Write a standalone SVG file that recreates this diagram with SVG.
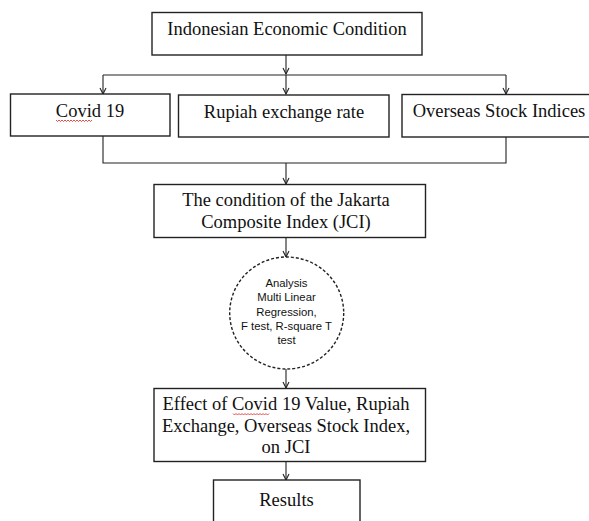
<svg xmlns="http://www.w3.org/2000/svg" width="589" height="521" viewBox="0 0 589 521">
<defs>
<marker id="ah" markerWidth="8" markerHeight="8" refX="7" refY="4" orient="auto" markerUnits="userSpaceOnUse">
<polyline points="1,1 7,4 1,7" fill="none" stroke="#222" stroke-width="1.1"/>
</marker>
<style>
.box{fill:#fff;stroke:#222;stroke-width:1.4}
.t{font-family:"Liberation Serif","Times New Roman",serif;font-size:18.5px;fill:#111;text-anchor:middle}
.c{font-family:"Liberation Sans",Arial,sans-serif;font-size:11.3px;fill:#111;text-anchor:middle}
.ln{fill:none;stroke:#222;stroke-width:1.1}
.sq{fill:none;stroke:#e02020;stroke-width:0.8}
</style>
</defs>
<rect width="589" height="521" fill="#fff"/>
<g id="connectors">
<line class="ln" x1="286" y1="55" x2="286" y2="74" marker-end="url(#ah)"/>
<polyline class="ln" points="103,75 506,75"/>
<line class="ln" x1="286" y1="75" x2="286" y2="94" marker-end="url(#ah)"/>
<line class="ln" x1="103" y1="75" x2="103" y2="94" marker-end="url(#ah)"/>
<line class="ln" x1="506" y1="75" x2="506" y2="94" marker-end="url(#ah)"/>
<polyline class="ln" points="103,136 103,163 506,163 506,137"/>
<line class="ln" x1="286" y1="163" x2="286" y2="184" marker-end="url(#ah)"/>
<line class="ln" x1="286" y1="238" x2="286" y2="257" marker-end="url(#ah)"/>
<line class="ln" x1="286" y1="369" x2="286" y2="388" marker-end="url(#ah)"/>
<line class="ln" x1="286" y1="462" x2="286" y2="480" marker-end="url(#ah)"/>
</g>
<g id="n-economic">
<rect class="box" x="152" y="12.5" width="270" height="42.5"/>
<text class="t" x="287" y="35">Indonesian Economic Condition</text>
</g>
<g id="n-covid">
<rect class="box" x="10.5" y="94" width="159.5" height="42"/>
<text class="t" x="90" y="117">Covid 19</text>
<path class="sq" d="M56,120 l1.5,1.5 l1.5,-1.5 l1.5,1.5 l1.5,-1.5 l1.5,1.5 l1.5,-1.5 l1.5,1.5 l1.5,-1.5 l1.5,1.5 l1.5,-1.5 l1.5,1.5 l1.5,-1.5 l1.5,1.5 l1.5,-1.5 l1.5,1.5 l1.5,-1.5 l1.5,1.5 l1.5,-1.5 l1.5,1.5 l1.5,-1.5 l1.5,1.5 l1.5,-1.5 l1.5,1.5 l1.5,-1.5"/>
</g>
<g id="n-rupiah">
<rect class="box" x="178.5" y="95" width="210.5" height="42"/>
<text class="t" x="284" y="117.5">Rupiah exchange rate</text>
</g>
<g id="n-overseas">
<rect class="box" x="402" y="94.5" width="192" height="42.5"/>
<text class="t" x="499" y="117">Overseas Stock Indices</text>
</g>
<g id="n-jci">
<rect class="box" x="154" y="184.5" width="271.5" height="53"/>
<text class="t" x="286" y="206">The condition of the Jakarta</text>
<text class="t" x="286" y="228">Composite Index (JCI)</text>
</g>
<g id="n-analysis">
<ellipse cx="286.7" cy="313" rx="57" ry="56" fill="#fff" stroke="#222" stroke-width="1.4" stroke-dasharray="3,2"/>
<text class="c" x="286.5" y="287">Analysis</text>
<text class="c" x="286.5" y="301">Multi Linear</text>
<text class="c" x="286.5" y="315.5">Regression,</text>
<text class="c" x="286.5" y="329.5">F test, R-square T</text>
<text class="c" x="286.5" y="343.5">test</text>
</g>
<g id="n-effect">
<rect class="box" x="154" y="388.5" width="271.5" height="73"/>
<text class="t" x="286" y="409.5">Effect of Covid 19 Value, Rupiah</text>
<text class="t" x="286" y="431.5">Exchange, Overseas Stock Index,</text>
<text class="t" x="286" y="452.5">on JCI</text>
<path class="sq" d="M233,413.5 l1.5,1.5 l1.5,-1.5 l1.5,1.5 l1.5,-1.5 l1.5,1.5 l1.5,-1.5 l1.5,1.5 l1.5,-1.5 l1.5,1.5 l1.5,-1.5 l1.5,1.5 l1.5,-1.5 l1.5,1.5 l1.5,-1.5 l1.5,1.5 l1.5,-1.5 l1.5,1.5 l1.5,-1.5 l1.5,1.5 l1.5,-1.5 l1.5,1.5 l1.5,-1.5 l1.5,1.5 l1.5,-1.5"/>
</g>
<g id="n-results">
<rect class="box" x="213.5" y="480" width="146.5" height="50"/>
<text class="t" x="286.5" y="506">Results</text>
</g>
</svg>
